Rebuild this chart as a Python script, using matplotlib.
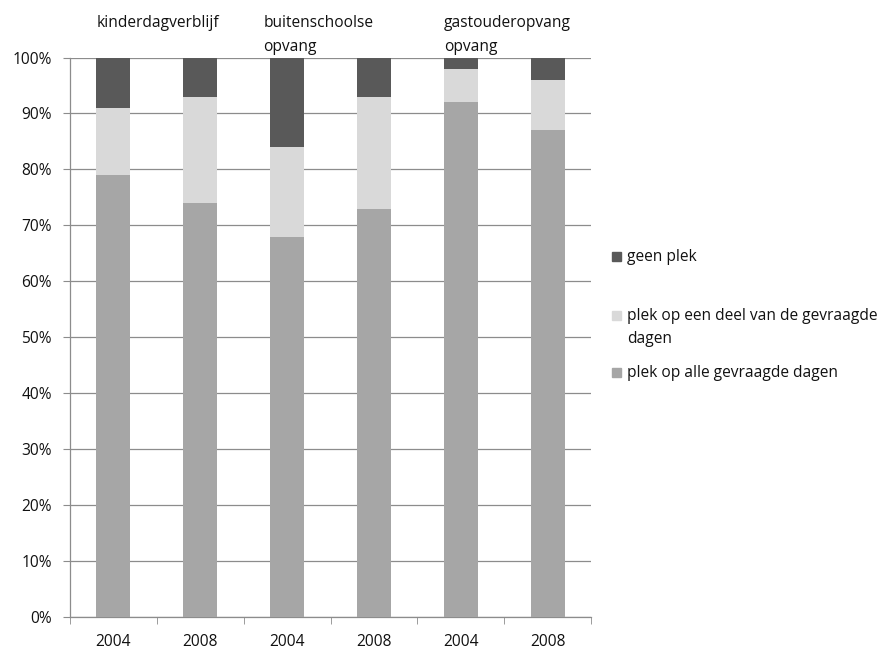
import matplotlib
matplotlib.use("Agg")
import matplotlib.pyplot as plt
from matplotlib.patches import Rectangle
import numpy as np

plt.rcParams['font.family'] = ['Open Sans', 'DejaVu Sans']

years = ["2004", "2008", "2004", "2008", "2004", "2008"]
groups = ["kinderdagverblijf", "buitenschoolse\nopvang", "gastouderopvang\nopvang"]
alle = [79, 74, 68, 73, 92, 87]
deel = [12, 19, 16, 20, 6, 9]
geen = [9, 7, 16, 7, 2, 4]
series_names = ["geen plek", "plek op een deel van de gevraagde\ndagen", "plek op alle gevraagde dagen"]
colors = {"alle": "#a6a6a6", "deel": "#d9d9d9", "geen": "#595959"}

FS = 11.2
fig = plt.figure(figsize=(8.81, 6.57), dpi=100)
ax = fig.add_axes([70/881, 1-617/657, 521/881, 559.5/657])

x = np.arange(len(years))
w = 0.39
a = np.array(alle); d = np.array(deel); g = np.array(geen)
ax.bar(x, a, w, color=colors["alle"], zorder=3)
ax.bar(x, d, w, bottom=a, color=colors["deel"], zorder=3)
ax.bar(x, g, w, bottom=a + d, color=colors["geen"], zorder=3)

ax.set_xlim(-0.5, len(years) - 0.5)
ax.set_ylim(0, 100)
ax.set_yticks(np.arange(0, 101, 10))
ax.set_yticklabels([f"{v}%" for v in range(0, 101, 10)], fontsize=FS, color="#111111")
ax.yaxis.grid(True, color="#8c8c8c", linewidth=0.9, zorder=0)
ax.set_xticks(x)
ax.set_xticklabels(years, fontsize=FS, color="#111111")
ax.set_xticks(np.arange(-0.5, len(years), 1), minor=True)
ax.tick_params(axis='x', which='major', length=0, pad=12)
ax.tick_params(axis='x', which='minor', length=5, color="#8c8c8c", direction='out')
ax.tick_params(axis='y', length=5, color="#8c8c8c", direction='out', pad=8)
for s in ["top", "right"]:
    ax.spines[s].set_visible(False)
for s in ["left", "bottom"]:
    ax.spines[s].set_color("#8c8c8c")
    ax.spines[s].set_linewidth(0.9)

# group labels
for i, lab in enumerate(groups):
    xl = 2 * i - w / 2 - (0.08 if i == 1 else 0)
    ax.text(xl, 107.6, lab, ha='left', va='top', fontsize=FS,
            color="#111111", linespacing=1.65, clip_on=False)

# manual legend
leg_items = [(series_names[0], colors["geen"], 256),
             (series_names[1], colors["deel"], 315),
             (series_names[2], colors["alle"], 372)]
for name, col, ypix in leg_items:
    fig.patches.append(Rectangle((612/881, 1 - (ypix + 5) / 657), 9/881, 9/657,
                                 transform=fig.transFigure, color=col))
    fig.text(627/881, 1 - (ypix - 7) / 657, name, ha='left', va='top',
             fontsize=FS, color="#111111", linespacing=1.6)

fig.savefig("out.png", dpi=100)
